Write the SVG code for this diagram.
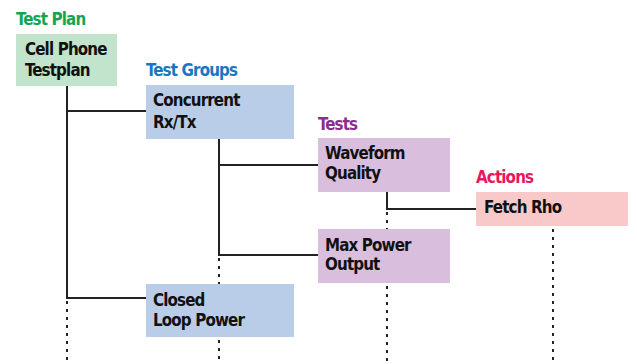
<svg xmlns="http://www.w3.org/2000/svg" width="637" height="364" viewBox="0 0 637 364">
<style>
text{font-family:"DejaVu Sans Condensed","Liberation Sans Narrow","Liberation Sans",sans-serif;font-weight:bold;font-size:16.8px;letter-spacing:-0.85px}
.t{fill:#111}
.solid{stroke:#222;stroke-width:2;fill:none}
.dot{stroke:#222;stroke-width:2;fill:none;stroke-dasharray:3 5}
</style>
<rect width="637" height="364" fill="#fff"/>
<g id="labels">
<text x="16" y="25" fill="#12a650">Test Plan</text>
<text x="146" y="76" fill="#1b76c0">Test Groups</text>
<text x="318" y="130" fill="#8b2c8f">Tests</text>
<text x="476" y="183" fill="#e8175d">Actions</text>
</g>
<g id="connectors">
<path class="solid" d="M67 86V298H146M67 111H146"/>
<path class="dot" d="M67 301V364"/>
<path class="solid" d="M219 139V255H318M219 165H318"/>
<path class="dot" d="M219 258V284M219 340V364"/>
<path class="solid" d="M387 192V209H476"/>
<path class="dot" d="M387 212V229M387 286V364"/>
<path class="dot" d="M553 229V364"/>
</g>
<g id="cellphone">
<rect x="16" y="34" width="101" height="52" fill="#c2e3cc"/>
<text class="t" x="25" y="55">Cell Phone</text>
<text class="t" x="25" y="76">Testplan</text>
</g>
<g id="concurrent">
<rect x="146" y="85" width="148" height="54" fill="#b9cde8"/>
<text class="t" x="153" y="106">Concurrent</text>
<text class="t" x="153" y="128">Rx/Tx</text>
</g>
<g id="closedloop">
<rect x="146" y="284" width="148" height="53" fill="#b9cde8"/>
<text class="t" x="153" y="306">Closed</text>
<text class="t" x="153" y="326">Loop Power</text>
</g>
<g id="waveform">
<rect x="318" y="138" width="132" height="54" fill="#d9bfdd"/>
<text class="t" x="325" y="159">Waveform</text>
<text class="t" x="325" y="179">Quality</text>
</g>
<g id="maxpower">
<rect x="318" y="229" width="132" height="54" fill="#d9bfdd"/>
<text class="t" x="325" y="251">Max Power</text>
<text class="t" x="325" y="270">Output</text>
</g>
<g id="fetchrho">
<rect x="476" y="192" width="152" height="34" fill="#f9c8c8"/>
<text class="t" x="484" y="213">Fetch Rho</text>
</g>
</svg>
